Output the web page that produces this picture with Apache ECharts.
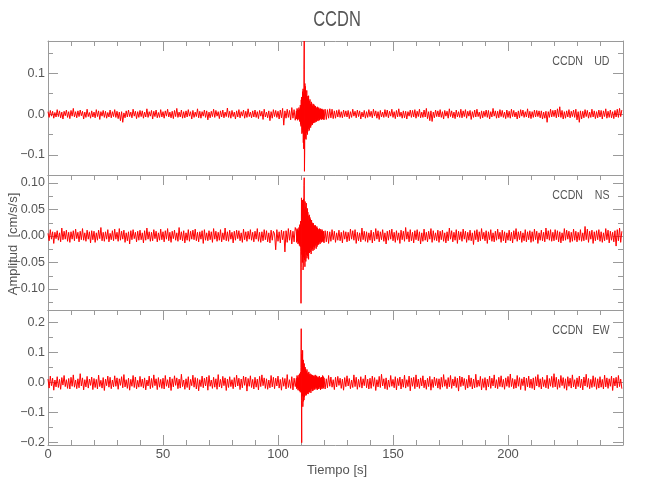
<!DOCTYPE html>
<html><head><meta charset="utf-8">
<script src="https://cdn.jsdelivr.net/npm/echarts@6/dist/echarts.min.js"></script>
<style>html,body{margin:0;padding:0;background:#fff}#c{width:650px;height:500px}</style>
</head><body><div id="c"></div>
<script>
const station = 'CCDN';
const componentNames = ['UD', 'NS', 'EW'];
const chartTitle = 'CCDN';
const yAxisTitle = 'Amplitud  [cm/s/s]';
const xAxisTitle = 'Tiempo [s]';
const xTickStep = 50;
// Time windows (s): coarse samples before/after the event, fine samples through it
const preStart = 0, coarseStep = 0.5;
const eventStart = 108, fineStep = 0.1;
const postStart = 120;
// Accelerations in units of 0.001 cm/s/s
const udPre = [
6,-8,9,-5,7,-10,4,-7,11,-6,8,-9,5,-12,7,-4,10,-8,6,-11,
9,-5,14,-7,6,-9,8,-6,10,-4,7,-12,5,-8,12,-6,4,-10,8,-7,
5,-9,11,-6,8,-13,6,-5,9,-8,7,-10,4,-7,10,-9,6,-6,11,-8,
7,-11,5,-16,6,-20,3,-9,8,-7,10,-6,5,-9,12,-5,7,-11,6,-8,
9,-6,8,-10,5,-7,13,-8,6,-5,9,-12,7,-6,10,-9,4,-8,11,-7,
6,-10,8,-5,12,-7,5,-9,7,-11,9,-6,14,-8,5,-7,10,-10,6,-9,
8,-7,11,-5,6,-12,9,-8,5,-6,13,-9,7,-10,6,-5,10,-8,8,-14,
5,-9,7,-6,12,-8,9,-5,6,-11,8,-7,10,-9,5,-6,15,-8,7,-10,
9,-6,5,-12,8,-7,11,-9,6,-5,10,-10,7,-8,13,-6,5,-9,8,-7,
10,-8,6,-11,9,-5,7,-13,12,-7,5,-9,8,-16,6,-10,11,-6,9,-8,
7,-12,10,-9,14,-27,8,-10,12,-8,9,-14,16,-10,11,-15
];
const udEvent = [
8,-12,5,14,-9,-15,11,6,-13,10,
-7,16,-11,9,-18,12,-6,22,-25,18,
-30,35,-22,42,-48,30,-38,55,-45,62,
-70,50,-85,110,179,-140,-95,75,-60,68,
-55,48,-62,40,-45,58,-38,44,-50,35,
-42,38,-30,45,-36,28,-40,32,-26,36,
-30,25,-33,22,-28,30,-20,26,-24,18,
-26,21,-18,25,-22,16,-20,23,-15,19,
-21,14,-18,20,-12,17,-19,13,-16,15,
-13,18,-15,11,-17,14,-10,16,-14,12,
-15,10,-12,14,-9,13,-11,8,-14,12,
-10,13,-8,11,-12,9,-13,7,-10,11
];
const udPost = [
-14,12,-13,11,-10,13,-9,12,-11,8,-10,9,-7,11,-8,6,-9,10,-6,8,
-7,9,-11,6,-8,12,-5,7,-9,10,-6,8,-12,5,-7,9,-10,6,-8,11,
-6,7,-9,12,-5,8,-10,6,-13,9,-7,5,-8,11,-6,10,-9,7,-5,12,
-8,6,-11,9,-7,13,-6,5,-10,8,-9,7,-12,6,-5,10,-8,9,-7,11,
-10,7,-6,12,-9,5,-8,10,-7,14,-11,6,-16,8,-18,5,-9,10,-6,8,
-7,11,-8,6,-12,9,-5,7,-10,13,-6,8,-9,5,-11,10,-7,6,-8,12,
-9,8,-6,11,-10,7,-5,9,-13,6,-8,10,-7,12,-6,5,-11,8,-9,7,
-6,10,-8,9,-12,6,-7,14,-5,8,-10,7,-9,11,-6,9,-8,5,-11,10,
-8,7,-10,12,-6,9,-7,5,-12,8,-9,11,-5,10,-8,6,-7,13,-9,7,
-11,6,-8,10,-7,9,-6,8,-9,8,-12,5,-10,7,-20,6,-8,12,-7,9,
-6,10,-9,13,-7,18,-8,9,-12,6,-10,8,-7,11,-9,7,-6,10,-8,12,
-14,6,-20,8,-12,7,-9,11,-6,9,-10,5,-8,12,-7,8,-11,6,-9,10,
-7,9,-12,8,-6,13,-10,7,-8,10,-9,6,-11,9,-7,12,-8,14,-6,10
];
const nsPre = [
5,-9,12,-6,8,-14,7,-5,10,-8,6,-11,15,-7,9,-6,11,-10,7,-12,
8,-6,10,-9,13,-5,7,-11,9,-7,14,-8,6,-10,11,-6,8,-13,10,-7,
9,-12,6,-8,11,-5,16,-9,7,-10,8,-6,12,-11,5,-7,10,-9,13,-6,
7,-10,14,-8,9,-6,11,-12,6,-9,8,-15,10,-7,12,-5,7,-11,9,-8,
11,-7,6,-13,10,-8,15,-6,8,-10,7,-9,12,-5,9,-11,6,-8,13,-7,
8,-11,10,-6,14,-9,7,-12,9,-5,11,-8,6,-10,16,-7,8,-9,10,-13,
6,-8,12,-10,9,-6,11,-7,13,-9,7,-11,8,-6,10,-14,12,-8,6,-9,
10,-7,8,-12,14,-6,9,-10,7,-8,12,-11,6,-7,15,-9,8,-10,11,-6,
7,-13,9,-8,11,-5,10,-9,6,-12,13,-7,8,-10,9,-6,12,-8,7,-11,
9,-6,14,-10,7,-12,8,-9,12,-7,10,-11,6,-13,11,-8,9,4,-26,12,
-10,8,-13,11,-7,9,-30,10,-12,14,-8,11,-15,9,-11,16
];
const nsEvent = [
9,-12,6,14,-10,-8,12,-15,10,7,
-13,16,-9,-18,20,-14,22,-20,28,-30,
-127,-60,72,45,-35,60,-50,68,40,-64,
-55,70,-40,95,110,-45,50,-58,65,-30,
55,-48,40,62,-35,48,-42,30,52,-38,
45,-30,28,-44,38,-25,40,-32,22,35,
-30,32,-22,28,-34,20,30,-26,18,25,
-24,22,-28,16,24,-20,18,-26,15,20,
-22,14,-18,20,-15,12,-24,16,-13,18,
-20,11,15,-17,13,-14,10,-16,12,-11,
14,-12,9,-15,11,-8,13,-10,7,-12,
10,-9,12,-7,8,-11,6,-10,9,-8
];
const nsPost = [
-13,10,-11,9,-14,8,-10,12,-7,9,-12,6,-8,11,-9,7,-13,10,-6,8,
-11,7,-9,13,-6,10,-8,12,-14,7,-9,6,-11,15,-7,9,-10,8,-12,6,
-8,11,-13,7,-9,14,-6,10,-11,8,-7,12,-10,6,-15,9,-8,11,-6,13,
-9,7,-12,10,-8,6,-14,11,-7,9,-10,16,-6,8,-11,12,-9,7,-13,10,
-7,12,-9,8,-15,6,-10,13,-8,7,-11,9,-6,14,-12,10,-8,6,-9,11,
-12,9,-7,11,-10,6,-13,8,-9,15,-6,10,-11,7,-8,12,-14,9,-7,8,
-10,13,-6,9,-12,7,-8,11,-9,6,-16,10,-7,12,-11,8,-9,14,-6,7,
-9,10,-14,8,-7,12,-10,6,-11,9,-8,13,-6,7,-12,11,-9,8,-13,6,
-8,11,-9,7,-13,10,-6,14,-10,8,-7,9,-12,6,-9,12,-11,8,-7,10,
-12,8,-10,13,-7,9,-14,6,-8,11,-9,7,-11,15,-6,10,-8,12,-10,7,
-9,12,-7,10,-11,8,-13,6,-9,14,-8,11,-6,9,-12,7,-10,13,-8,9,
-11,7,-8,12,-10,6,-9,18,-7,13,-12,9,-6,11,-14,8,-9,10,-7,12,
-10,8,-12,6,-9,14,-7,11,-13,9,-8,7,-11,10,-19,12,-9,15,-12,9
];
const ewPre = [
12,-18,22,-10,15,-25,9,-14,20,-16,11,-22,17,-8,24,-13,10,-19,14,-21,
18,-12,26,-15,9,-20,13,-17,30,-11,16,-24,10,-14,21,-18,12,-9,19,-23,
14,-16,11,-21,25,-13,8,-18,17,-26,12,-10,22,-15,18,-20,9,-14,23,-12,
16,-22,13,-9,20,-17,27,-14,10,-19,15,-25,11,-12,24,-16,19,-21,8,-15,
21,-13,12,-18,16,-24,9,-11,22,-20,14,-16,26,-10,13,-23,17,-15,11,-19,
15,-21,24,-12,10,-17,19,-26,13,-14,23,-9,16,-20,12,-18,28,-13,9,-22,
13,-16,20,-24,11,-10,25,-15,17,-21,14,-27,10,-13,22,-17,15,-11,19,-25,
24,-12,9,-19,18,-15,13,-22,27,-14,11,-18,21,-10,16,-26,12,-16,20,-13,
10,-20,17,-14,25,-11,15,-23,12,-17,22,-9,19,-28,14,-12,23,-16,11,-21,
18,-15,12,-24,21,-13,26,-10,16,-19,13,-22,9,-17,24,-14,18,-20,15,-11,
22,-18,11,-25,17,-12,14,-21,27,-16,10,-19,20,-24,15,-13
];
const ewEvent = [
15,-20,11,24,-18,-13,20,-25,16,12,
-22,26,-15,-28,30,-20,25,-32,35,-28,
50,180,-60,-200,95,60,-45,108,-80,-50,
76,-62,55,-58,64,-48,40,-44,52,-38,
46,-40,35,-42,38,-30,44,-34,28,-36,
33,-38,26,-30,36,-24,28,-32,22,-26,
30,-25,20,-34,24,-18,27,-22,16,-28,
25,-20,18,-26,22,-15,24,-19,13,-23,
21,-17,26,-14,19,-22,12,-18,23,-16,
18,-24,15,-12,20,-19,14,-21,17,-13,
22,-15,11,-20,16,-24,13,-17,19,-12,
15,-21,18,-14,24,-16,12,-19,20,-15
];
const ewPost = [
16,-21,13,-17,24,-12,19,-15,10,-23,18,-14,21,-9,15,-19,12,-25,17,-13,
23,-11,14,-20,9,-16,26,-13,18,-22,11,-15,20,-18,13,-10,25,-17,12,-21,
15,-19,22,-12,17,-26,10,-14,21,-16,28,-11,13,-20,16,-23,9,-15,24,-12,
11,-17,20,-24,14,-10,19,-21,12,-15,25,-18,10,-13,22,-27,16,-12,18,-20,
26,-14,12,-19,16,-11,23,-17,9,-22,15,-13,21,-25,11,-16,19,-10,14,-18,
13,-22,18,-15,27,-12,10,-20,17,-14,24,-19,12,-11,20,-16,15,-28,22,-13,
19,-10,14,-23,11,-18,25,-13,16,-21,12,-17,28,-15,9,-12,21,-24,13,-16,
17,-25,12,-14,22,-19,15,-11,26,-17,10,-20,18,-13,23,-15,11,-22,16,-12,
21,-16,29,-13,14,-20,11,-18,24,-12,17,-23,13,-10,19,-26,15,-14,22,-17,
12,-19,16,-24,20,-11,27,-15,13,-21,18,-13,10,-17,25,-20,14,-12,21,-16,
30,-14,18,-22,11,-16,24,-10,17,-19,13,-25,20,-12,15,-18,26,-14,10,-21,
16,-13,22,-17,12,-24,19,-11,28,-15,14,-20,11,-16,23,-13,17,-22,13,-18,
20,-15,11,-21,25,-14,16,-19,13,-12,22,-26,15,-11,18,-17,24,-13,12,-20
];
const yMin = [-0.149, -0.1396, -0.2077];
const yMax = [0.179, 0.1151, 0.2423];
const yDecimals = [1, 2, 1];
const ySplitNumber = [3, 5, 4];
const xMin = 0, xMax = 250;

function buildTrace(pre, ev, post) {
  const out = [];
  pre.forEach((v, i) => out.push([preStart + i * coarseStep, v / 1000]));
  ev.forEach((v, i) => out.push([+(eventStart + i * fineStep).toFixed(2), v / 1000]));
  post.forEach((v, i) => out.push([postStart + i * coarseStep, v / 1000]));
  return out;
}
const traces = [buildTrace(udPre, udEvent, udPost), buildTrace(nsPre, nsEvent, nsPost), buildTrace(ewPre, ewEvent, ewPost)];

const FONT = "'Liberation Sans Narrow','Liberation Sans','DejaVu Sans Condensed',sans-serif";
const AX = '#9a9a9a';
const TX = '#555';
const gridTop = [41, 175, 310];
const gridH = [134, 135, 135];

const grids = [], xAxes = [], yAxes = [], series = [], graphics = [];
for (let p = 0; p < 3; p++) {
  grids.push({left: 48, width: 575, top: gridTop[p], height: gridH[p], containLabel: false});
  const last = p === 2;
  xAxes.push({type: 'value', gridIndex: p, position: 'bottom', min: xMin, max: xMax, interval: xTickStep,
    axisLine: {show: true, onZero: false, lineStyle: {color: AX, width: 1}},
    axisTick: {show: last, inside: true, length: 10, lineStyle: {color: AX}},
    minorTick: {show: last, splitNumber: 5, length: 5, lineStyle: {color: AX}},
    splitLine: {show: false}, minorSplitLine: {show: false},
    axisLabel: {show: last, margin: 3, color: TX, fontFamily: FONT, fontSize: 13,
      formatter: v => v > 240 ? '' : String(v)}});
  xAxes.push({type: 'value', gridIndex: p, position: 'top', min: xMin, max: xMax, interval: xTickStep,
    axisLine: {show: true, onZero: false, lineStyle: {color: AX, width: 1}},
    axisTick: {show: true, inside: true, length: 10, lineStyle: {color: AX}},
    minorTick: {show: true, splitNumber: 5, length: 5, lineStyle: {color: AX}},
    splitLine: {show: false}, minorSplitLine: {show: false}, axisLabel: {show: false}});
  const dec = yDecimals[p];
  yAxes.push({type: 'value', gridIndex: p, position: 'left', min: yMin[p], max: yMax[p], splitNumber: ySplitNumber[p],
    axisLine: {show: true, onZero: false, lineStyle: {color: AX, width: 1}},
    axisTick: {show: true, inside: true, length: 10, lineStyle: {color: AX}},
    minorTick: {show: true, splitNumber: 2, length: 5, lineStyle: {color: AX}},
    splitLine: {show: false}, minorSplitLine: {show: false},
    axisLabel: {show: true, margin: 3, color: TX, fontFamily: FONT, fontSize: 12.5,
      showMinLabel: false, showMaxLabel: false,
      formatter: v => (Math.abs(v) < 1e-9 ? 0 : v).toFixed(dec).replace('-', '\u2212')}});
  yAxes.push({type: 'value', gridIndex: p, position: 'right', min: yMin[p], max: yMax[p], splitNumber: ySplitNumber[p],
    axisLine: {show: true, onZero: false, lineStyle: {color: AX, width: 1}},
    axisTick: {show: true, inside: true, length: 10, lineStyle: {color: AX}},
    minorTick: {show: true, splitNumber: 2, length: 5, lineStyle: {color: AX}},
    splitLine: {show: false}, minorSplitLine: {show: false}, axisLabel: {show: false}});
  series.push({type: 'line', xAxisIndex: 2 * p, yAxisIndex: 2 * p, data: traces[p],
    showSymbol: false, symbol: 'none', sampling: false, clip: true, animation: false,
    lineStyle: {color: '#ff0000', width: 1}, emphasis: {disabled: true}, silent: true});
  graphics.push({type: 'text', x: 583, y: gridTop[p] + 20.5, scaleX: 0.85,
    style: {text: station, fontFamily: FONT, fontSize: 12.5, fill: TX, align: 'right', verticalAlign: 'middle'}});
  graphics.push({type: 'text', x: 609.5, y: gridTop[p] + 20.5, scaleX: 0.85,
    style: {text: componentNames[p], fontFamily: FONT, fontSize: 12.5, fill: TX, align: 'right', verticalAlign: 'middle'}});
}
graphics.push({type: 'text', x: 337, y: 20, scaleX: 0.75,
  style: {text: chartTitle, fontFamily: FONT, fontSize: 22, fill: TX, align: 'center', verticalAlign: 'middle'}});
graphics.push({type: 'text', x: 13, y: 244, rotation: Math.PI / 2,
  style: {text: yAxisTitle, fontFamily: FONT, fontSize: 13, fill: TX, align: 'center', verticalAlign: 'middle'}});
graphics.push({type: 'text', x: 337, y: 470,
  style: {text: xAxisTitle, fontFamily: FONT, fontSize: 13, fill: TX, align: 'center', verticalAlign: 'middle'}});

const chart = echarts.init(document.getElementById('c'), null, {renderer: 'canvas'});
chart.setOption({
  animation: false,
  backgroundColor: '#fff',
  grid: grids, xAxis: xAxes, yAxis: yAxes, series: series,
  graphic: graphics
});
</script></body></html>
